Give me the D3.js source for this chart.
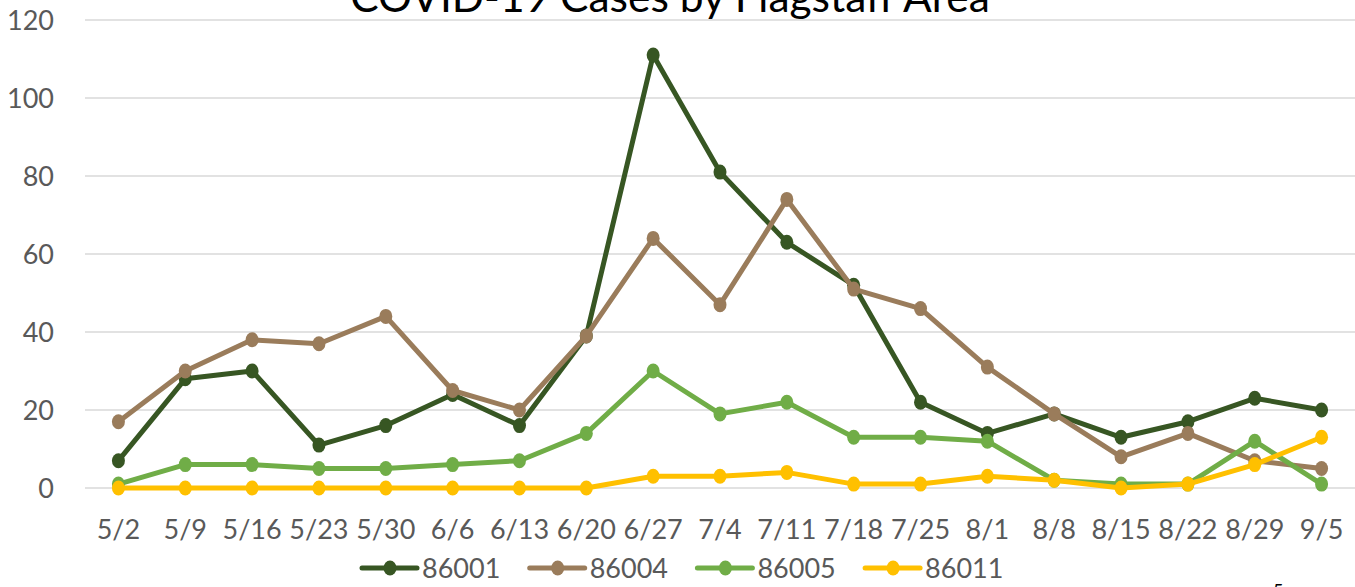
<!DOCTYPE html>
<html>
<head>
<meta charset="utf-8">
<script src="https://cdn.jsdelivr.net/npm/d3@7"></script>
<style>
  html, body { margin: 0; padding: 0; background: #fff; }
  svg { display: block; font-family: Lato, "Open Sans", sans-serif; }
</style>
</head>
<body>
<svg id="chart" width="1355" height="587"></svg>
<script>
"use strict";

// data
const dates = ["5/2", "5/9", "5/16", "5/23", "5/30", "6/6", "6/13", "6/20", "6/27", "7/4",
  "7/11", "7/18", "7/25", "8/1", "8/8", "8/15", "8/22", "8/29", "9/5"];
const zip86001 = [7, 28, 30, 11, 16, 24, 16, 39, 111, 81, 63, 52, 22, 14, 19, 13, 17, 23, 20];
const zip86004 = [17, 30, 38, 37, 44, 25, 20, 39, 64, 47, 74, 51, 46, 31, 19, 8, 14, 7, 5];
const zip86005 = [1, 6, 6, 5, 5, 6, 7, 14, 30, 19, 22, 13, 13, 12, 2, 1, 1, 12, 1];
const zip86011 = [0, 0, 0, 0, 0, 0, 0, 0, 3, 3, 4, 1, 1, 3, 2, 0, 1, 6, 13];
const yTicks = [0, 20, 40, 60, 80, 100, 120];

const series = [
  { name: "86001", values: zip86001, color: "#375623" },
  { name: "86004", values: zip86004, color: "#9a7c5b" },
  { name: "86005", values: zip86005, color: "#70ad47" },
  { name: "86011", values: zip86011, color: "#ffc000" }
];

const svg = d3.select("#chart");
const margin = { left: 85, right: 0, top: 20, bottom: 99 };
const width = +svg.attr("width"), height = +svg.attr("height");

const x = d3.scalePoint()
  .domain(dates)
  .range([margin.left, width - margin.right])
  .padding(0.5);

const y = d3.scaleLinear()
  .domain([0, 120])
  .range([height - margin.bottom, margin.top]);

// gridlines
svg.append("g")
  .selectAll("line")
  .data(yTicks)
  .join("line")
    .attr("x1", margin.left)
    .attr("x2", width - margin.right)
    .attr("y1", d => y(d))
    .attr("y2", d => y(d))
    .attr("stroke", "#d9d9d9")
    .attr("stroke-width", 1.5);

// y axis labels
svg.append("g")
  .selectAll("text")
  .data(yTicks)
  .join("text")
    .attr("x", 54)
    .attr("y", d => y(d))
    .attr("dy", "0.36em")
    .attr("text-anchor", "end")
    .attr("fill", "#595959")
    .attr("font-size", 27)
    .text(d => d);

// x axis labels
svg.append("g")
  .selectAll("text")
  .data(dates)
  .join("text")
    .attr("x", d => x(d))
    .attr("y", 539)
    .attr("text-anchor", "middle")
    .attr("fill", "#595959")
    .attr("font-size", 27)
    .text(d => d);

const line = d3.line()
  .x((d, i) => x(dates[i]))
  .y(d => y(d));

series.forEach(s => {
  const g = svg.append("g");
  g.append("path")
    .datum(s.values)
    .attr("fill", "none")
    .attr("stroke", s.color)
    .attr("stroke-width", 5)
    .attr("stroke-linejoin", "round")
    .attr("d", line);
  g.selectAll("ellipse")
    .data(s.values)
    .join("ellipse")
      .attr("cx", (d, i) => x(dates[i]))
      .attr("cy", d => y(d))
      .attr("rx", 6.5)
      .attr("ry", 7.5)
      .attr("fill", s.color);
});

// title (cut off by the top edge)
svg.append("text")
  .attr("x", 670)
  .attr("y", 12)
  .attr("text-anchor", "middle")
  .attr("fill", "#000")
  .attr("font-size", 42.5)
  .text("COVID-19 Cases by Flagstaff Area");

// legend
const legend = svg.append("g")
  .selectAll("g")
  .data(series)
  .join("g")
    .attr("transform", (d, i) => "translate(" + (362 + i * 167.7) + ",568)");

legend.append("line")
  .attr("x1", 0).attr("x2", 55)
  .attr("stroke", d => d.color)
  .attr("stroke-width", 5)
  .attr("stroke-linecap", "round");
legend.append("ellipse")
  .attr("cx", 28)
  .attr("rx", 6.5).attr("ry", 7.5)
  .attr("fill", d => d.color);
legend.append("text")
  .attr("x", 60)
  .attr("dy", "0.36em")
  .attr("fill", "#595959")
  .attr("font-size", 27)
  .text(d => d.name);

// page number at the bottom edge
svg.append("text")
  .attr("x", 1273)
  .attr("y", 597)
  .attr("fill", "#000")
  .attr("font-size", 18)
  .text("5");
</script>
</body>
</html>
